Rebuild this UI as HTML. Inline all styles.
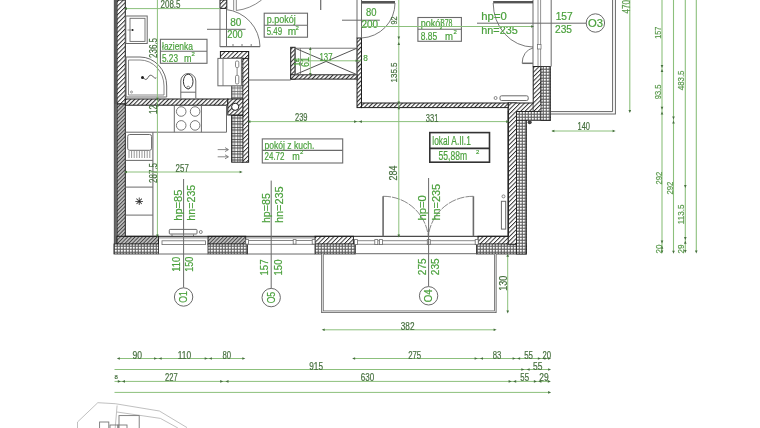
<!DOCTYPE html><html><head><meta charset="utf-8"><style>
html,body{margin:0;padding:0;background:#fff;width:760px;height:428px;overflow:hidden}
svg{display:block;will-change:transform;font-family:"Liberation Sans",sans-serif}
</style></head><body>
<svg width="760" height="428" viewBox="0 0 760 428">
<defs>
<pattern id="h" width="3.1" height="3.1" patternUnits="userSpaceOnUse" patternTransform="rotate(45)">
<rect width="3.1" height="3.1" fill="#fff"/><rect x="0" y="0" width="0.95" height="3.1" fill="#2e2e2e"/></pattern>
<pattern id="hd" width="2.6" height="2.6" patternUnits="userSpaceOnUse" patternTransform="rotate(45)">
<rect width="2.6" height="2.6" fill="#bcbcbc"/><rect x="0" y="0" width="0.9" height="2.6" fill="#444"/></pattern>
<pattern id="b" width="3" height="3" patternUnits="userSpaceOnUse">
<rect width="3" height="3" fill="#666"/><rect x="0.8" y="0.8" width="2" height="2" rx="0.7" fill="#fcfcfc"/></pattern>
<pattern id="hx" width="3" height="3" patternUnits="userSpaceOnUse" patternTransform="rotate(45)">
<rect width="3" height="3" fill="#fff"/><rect x="0" y="0" width="1.1" height="3" fill="#333"/></pattern>
<pattern id="dct" width="5.7" height="6" patternUnits="userSpaceOnUse" x="231.6" y="115">
<rect width="5.7" height="6" fill="#f2f2f2"/><path d="M0 0.4H5.7M0.4 0V6M0 3H5.7M2.85 0V6" stroke="#3a3a3a" stroke-width="0.8"/></pattern>
</defs>
<rect width="760" height="428" fill="#fff"/>

<rect x="117" y="0" width="8.3" height="104" fill="url(#h)" stroke="#1e1e1e" stroke-width="1"/>
<rect x="117" y="104" width="8.3" height="140" fill="url(#hd)" stroke="#1e1e1e" stroke-width="1"/>
<rect x="114" y="0" width="3" height="104" fill="#5a5a5a"/>
<rect x="114" y="104" width="3" height="140" fill="#666"/>
<line x1="114.3" y1="0" x2="114.3" y2="254" stroke="#555" stroke-width="0.8" />
<rect x="117" y="236.3" width="41.5" height="7.9" fill="url(#hd)" stroke="#1e1e1e" stroke-width="1"/>
<rect x="114" y="244" width="44.5" height="10" fill="url(#b)" stroke="#1e1e1e" stroke-width="0.8"/>
<rect x="208" y="236.3" width="37.7" height="7.9" fill="url(#hd)" stroke="#1e1e1e" stroke-width="1"/>
<rect x="208" y="244" width="39.6" height="10" fill="url(#b)" stroke="#1e1e1e" stroke-width="0.8"/>
<rect x="315" y="236.3" width="38.4" height="7.9" fill="url(#h)" stroke="#1e1e1e" stroke-width="1"/>
<rect x="315" y="244" width="40.3" height="10" fill="url(#b)" stroke="#1e1e1e" stroke-width="0.8"/>
<rect x="478" y="236.3" width="38.6" height="7.9" fill="url(#h)" stroke="#1e1e1e" stroke-width="1"/>
<rect x="476.5" y="244" width="50" height="10" fill="url(#b)" stroke="#1e1e1e" stroke-width="0.8"/>
<rect x="508.2" y="103" width="8.4" height="141.2" fill="url(#h)" stroke="#1e1e1e" stroke-width="1"/>
<rect x="516.6" y="111.6" width="9.9" height="142.4" fill="url(#b)" stroke="#1e1e1e" stroke-width="0.8"/>
<rect x="508.2" y="103" width="32.8" height="8.6" fill="url(#h)" stroke="#1e1e1e" stroke-width="1"/>
<rect x="533.2" y="66.5" width="7.8" height="45" fill="url(#h)" stroke="#1e1e1e" stroke-width="1"/>
<rect x="516.6" y="111.6" width="34" height="8.7" fill="url(#b)" stroke="#1e1e1e" stroke-width="0.8"/>
<rect x="541" y="66.5" width="9.6" height="53.8" fill="url(#b)" stroke="#1e1e1e" stroke-width="0.8"/>
<rect x="509" y="103.6" width="7.1" height="8.5" fill="url(#h)"/>
<rect x="533.7" y="103.6" width="6.8" height="7.5" fill="url(#h)"/>
<rect x="517.1" y="112.1" width="8.9" height="8.0" fill="url(#b)"/>
<rect x="541.5" y="112.1" width="8.6" height="7.7" fill="url(#b)"/>
<line x1="508.2" y1="111.6" x2="508.2" y2="236.3" stroke="#1e1e1e" stroke-width="1.2" />
<line x1="125.3" y1="236.3" x2="508.2" y2="236.3" stroke="#1e1e1e" stroke-width="1.0" />
<rect x="361.5" y="103" width="146.7" height="4.6" fill="url(#hx)" stroke="#1e1e1e" stroke-width="1"/>
<rect x="357.5" y="103.5" width="4.5" height="3.6" fill="url(#hx)"/>
<rect x="357" y="38" width="4.5" height="69.6" fill="url(#hx)" stroke="#1e1e1e" stroke-width="1"/>
<line x1="357" y1="0" x2="357" y2="38" stroke="#6a6a6a" stroke-width="1" />
<line x1="361.5" y1="0" x2="361.5" y2="38" stroke="#6a6a6a" stroke-width="1" />
<rect x="290.7" y="47.3" width="4.4" height="31.8" fill="url(#hx)" stroke="#1e1e1e" stroke-width="1"/>
<rect x="290.7" y="74.7" width="66.3" height="4.4" fill="url(#hx)" stroke="#1e1e1e" stroke-width="1"/>
<rect x="295.1" y="48.2" width="61.9" height="26.5" fill="none" stroke="#6a6a6a" stroke-width="0.9" />
<line x1="300.5" y1="48.2" x2="300.5" y2="74.7" stroke="#6a6a6a" stroke-width="0.7" />
<line x1="295.1" y1="48.2" x2="357" y2="74.7" stroke="#555" stroke-width="1" />
<line x1="295.1" y1="74.7" x2="357" y2="48.2" stroke="#555" stroke-width="1" />
<line x1="248.6" y1="80" x2="290.7" y2="80" stroke="#6a6a6a" stroke-width="1" />
<rect x="125.3" y="99" width="102.5" height="6.2" fill="url(#hx)" stroke="#1e1e1e" stroke-width="1"/>
<rect x="242.2" y="51.5" width="6.4" height="110.7" fill="url(#h)" stroke="#1e1e1e" stroke-width="1"/>
<rect x="220.4" y="51.5" width="28.2" height="6.9" fill="url(#h)" stroke="#1e1e1e" stroke-width="1"/>
<rect x="231.6" y="115" width="11.3" height="47.2" fill="url(#dct)" stroke="#1e1e1e" stroke-width="0.9"/>
<rect x="231.6" y="58" width="11.3" height="41" fill="url(#dct)" stroke="#1e1e1e" stroke-width="0.9" opacity="0.8"/>
<rect x="227.8" y="99" width="15.1" height="16" fill="url(#hx)" stroke="#1e1e1e" stroke-width="1"/>
<circle cx="235.2" cy="106.8" r="3.6" fill="#fff" stroke="#1e1e1e" stroke-width="1"/>
<rect x="217.9" y="58.4" width="23.5" height="27.4" fill="#fff" stroke="#6a6a6a" stroke-width="1" />
<line x1="223" y1="58.4" x2="223" y2="85.8" stroke="#6a6a6a" stroke-width="0.8" />
<rect x="235.5" y="61" width="3.3" height="6.5" fill="none" stroke="#6a6a6a" stroke-width="0.8" rx="1.2"/>
<rect x="235.5" y="75.4" width="3.3" height="8.5" fill="none" stroke="#6a6a6a" stroke-width="0.8" rx="1.2"/>
<line x1="237.1" y1="67.5" x2="237.1" y2="75.4" stroke="#6a6a6a" stroke-width="0.8" />
<rect x="220" y="0" width="6.8" height="8.4" fill="url(#h)" stroke="#1e1e1e" stroke-width="1"/>
<line x1="220" y1="8.4" x2="220" y2="47" stroke="#6a6a6a" stroke-width="1" />
<line x1="226.5" y1="8.4" x2="226.5" y2="47" stroke="#6a6a6a" stroke-width="1" />
<line x1="220" y1="46.7" x2="260" y2="46.7" stroke="#6a6a6a" stroke-width="1.2" />
<line x1="233" y1="44" x2="233" y2="47" stroke="#6a6a6a" stroke-width="0.9" />
<line x1="242" y1="44" x2="242" y2="47" stroke="#6a6a6a" stroke-width="0.9" />
<line x1="251.2" y1="44" x2="251.2" y2="47" stroke="#6a6a6a" stroke-width="0.9" />
<line x1="233.7" y1="0" x2="233.7" y2="10.5" stroke="#6a6a6a" stroke-width="0.8" />
<line x1="236.3" y1="0" x2="236.3" y2="10.5" stroke="#6a6a6a" stroke-width="0.8" />
<path d="M236.3 10.5 Q250 9 261.6 0" stroke="#6a6a6a" stroke-width="0.8" fill="none" />
<path d="M226 9.5 A38 38 0 0 1 260 46.7" stroke="#6a6a6a" stroke-width="0.9" fill="none" />
<rect x="361.5" y="1" width="33.5" height="2.6" fill="#555"/>
<path d="M395 3 A35 35 0 0 1 361.5 38" stroke="#6a6a6a" stroke-width="0.9" fill="none" />
<rect x="493.2" y="1" width="39.8" height="2.4" fill="#555"/>
<path d="M493.2 3 A40 44 0 0 0 533 47" stroke="#6a6a6a" stroke-width="0.9" fill="none" />
<line x1="533" y1="0" x2="533" y2="66.5" stroke="#444" stroke-width="0.8" />
<line x1="538" y1="0" x2="538" y2="66.5" stroke="#777" stroke-width="0.8" />
<line x1="540.6" y1="0" x2="540.6" y2="66.5" stroke="#777" stroke-width="0.8" />
<line x1="551.2" y1="0" x2="551.2" y2="66.5" stroke="#777" stroke-width="1.1" />
<line x1="320.7" y1="0" x2="320.7" y2="10" stroke="#6a6a6a" stroke-width="1.2" />
<rect x="537.6" y="44.5" width="3.4" height="4.5" fill="#fff" stroke="#6a6a6a" stroke-width="0.7" />
<line x1="522.2" y1="63.3" x2="533" y2="63.3" stroke="#6a6a6a" stroke-width="1.5" />
<path d="M533 48 A13 15 0 0 0 522.2 63.3" stroke="#6a6a6a" stroke-width="0.9" fill="none" />
<line x1="550.6" y1="111.6" x2="612.6" y2="111.6" stroke="#666" stroke-width="1" />
<line x1="550.6" y1="114" x2="615.9" y2="114" stroke="#666" stroke-width="1" />
<line x1="612.6" y1="0" x2="612.6" y2="111.6" stroke="#666" stroke-width="1" />
<line x1="615.4" y1="0" x2="615.4" y2="114" stroke="#666" stroke-width="1" />
<line x1="158.5" y1="237.9" x2="208" y2="237.9" stroke="#6a6a6a" stroke-width="0.8" />
<rect x="162" y="240.8" width="43.5" height="3.8" fill="#fff" stroke="#6a6a6a" stroke-width="0.8" />
<line x1="158.5" y1="254" x2="208" y2="254" stroke="#6a6a6a" stroke-width="1" />
<line x1="245.7" y1="237.9" x2="315" y2="237.9" stroke="#6a6a6a" stroke-width="0.8" />
<rect x="247.6" y="240.5" width="66" height="3.8" fill="#fff" stroke="#6a6a6a" stroke-width="0.8" />
<rect x="245.7" y="239.6" width="2.8" height="4.5" fill="#fff" stroke="#6a6a6a" stroke-width="0.8" />
<rect x="293.2" y="239.6" width="2.8" height="4.5" fill="#fff" stroke="#6a6a6a" stroke-width="0.8" />
<rect x="312.2" y="239.6" width="2.8" height="4.5" fill="#fff" stroke="#6a6a6a" stroke-width="0.8" />
<line x1="247.6" y1="254" x2="315" y2="254" stroke="#6a6a6a" stroke-width="1" />
<line x1="353.4" y1="240.7" x2="478" y2="240.7" stroke="#6a6a6a" stroke-width="0.8" />
<line x1="353.4" y1="244.3" x2="478" y2="244.3" stroke="#6a6a6a" stroke-width="0.8" />
<rect x="354.5" y="239.6" width="3" height="5" fill="#fff" stroke="#6a6a6a" stroke-width="0.8" />
<rect x="374.8" y="239.6" width="3" height="5" fill="#fff" stroke="#6a6a6a" stroke-width="0.8" />
<rect x="379.4" y="239.6" width="3" height="5" fill="#fff" stroke="#6a6a6a" stroke-width="0.8" />
<rect x="427.3" y="239.6" width="3" height="5" fill="#fff" stroke="#6a6a6a" stroke-width="0.8" />
<rect x="475.2" y="239.6" width="3" height="5" fill="#fff" stroke="#6a6a6a" stroke-width="0.8" />
<line x1="355.3" y1="253.7" x2="476.5" y2="253.7" stroke="#6a6a6a" stroke-width="1" />
<line x1="383.1" y1="196.3" x2="383.1" y2="236.3" stroke="#6a6a6a" stroke-width="1.6" />
<line x1="473.4" y1="196.3" x2="473.4" y2="236.3" stroke="#6a6a6a" stroke-width="1.6" />
<path d="M383.1 196.3 A45 45 0 0 1 428.3 236.3" stroke="#6a6a6a" stroke-width="0.8" fill="none" stroke-dasharray="8 1"/>
<path d="M473.4 196.3 A45 45 0 0 0 428.3 236.3" stroke="#6a6a6a" stroke-width="0.8" fill="none" stroke-dasharray="8 1"/>
<path d="M322.4 254 V311.7 H495.3 V254" stroke="#6a6a6a" stroke-width="2.6" fill="none" />
<path d="M322.4 254 V311.7 H495.3 V254" stroke="#fff" stroke-width="0.8" fill="none" />
<rect x="125.8" y="16" width="21.4" height="27.5" fill="none" stroke="#6a6a6a" stroke-width="1" />
<rect x="130" y="18.3" width="15" height="23.1" fill="none" stroke="#6a6a6a" stroke-width="0.9" />
<circle cx="132.5" cy="30" r="1.1" fill="#1e1e1e"/>
<line x1="127.5" y1="30" x2="131" y2="30" stroke="#6a6a6a" stroke-width="0.7" />
<path d="M126.1 57 H140 A26.7 29 0 0 1 166.7 86 V97 H126.1 Z" stroke="#6a6a6a" stroke-width="1" fill="none" />
<path d="M128.5 60 H140 A24 26 0 0 1 164 86 V95 H128.5 Z" stroke="#6a6a6a" stroke-width="0.8" fill="none" />
<circle cx="142.5" cy="77.5" r="1.5" fill="#1e1e1e"/>
<path d="M143 77.5 q3 4 5 0 t5 -1 t3 1" stroke="#1e1e1e" stroke-width="0.7" fill="none" />
<circle cx="131.5" cy="92" r="1" fill="none" stroke="#6a6a6a" stroke-width="0.7"/>
<path d="M180.8 98.5 V81 A7.5 7.5 0 0 1 195.8 81 V98.5" stroke="#6a6a6a" stroke-width="1" fill="none" />
<line x1="180.8" y1="92.2" x2="195.8" y2="92.2" stroke="#6a6a6a" stroke-width="1" />
<ellipse cx="188.2" cy="81.5" rx="4.8" ry="7.3" fill="none" stroke="#1e1e1e" stroke-width="0.9"/>
<circle cx="188.2" cy="87.6" r="1.4" fill="none" stroke="#6a6a6a" stroke-width="0.8"/>
<line x1="125.3" y1="132.2" x2="226.5" y2="132.2" stroke="#6a6a6a" stroke-width="1" />
<line x1="226.5" y1="105.2" x2="226.5" y2="132.2" stroke="#6a6a6a" stroke-width="1" />
<line x1="174.3" y1="105.2" x2="174.3" y2="132.2" stroke="#6a6a6a" stroke-width="1" />
<line x1="201.4" y1="105.2" x2="201.4" y2="132.2" stroke="#6a6a6a" stroke-width="1" />
<circle cx="181.2" cy="111.5" r="4.8" fill="none" stroke="#6a6a6a" stroke-width="0.9"/>
<circle cx="181.2" cy="125.4" r="4.8" fill="none" stroke="#6a6a6a" stroke-width="0.9"/>
<circle cx="195.1" cy="111.5" r="4.8" fill="none" stroke="#6a6a6a" stroke-width="0.9"/>
<circle cx="195.1" cy="125.4" r="4.8" fill="none" stroke="#6a6a6a" stroke-width="0.9"/>
<line x1="152.9" y1="132.2" x2="152.9" y2="236.3" stroke="#6a6a6a" stroke-width="1.1" />
<rect x="127.7" y="134.5" width="23.9" height="15.8" fill="none" stroke="#6a6a6a" stroke-width="1" rx="2"/>
<line x1="129.0" y1="151" x2="129.0" y2="158" stroke="#6a6a6a" stroke-width="0.7" />
<line x1="131.6" y1="151" x2="131.6" y2="158" stroke="#6a6a6a" stroke-width="0.7" />
<line x1="134.2" y1="151" x2="134.2" y2="158" stroke="#6a6a6a" stroke-width="0.7" />
<line x1="136.8" y1="151" x2="136.8" y2="158" stroke="#6a6a6a" stroke-width="0.7" />
<line x1="139.4" y1="151" x2="139.4" y2="158" stroke="#6a6a6a" stroke-width="0.7" />
<line x1="142.0" y1="151" x2="142.0" y2="158" stroke="#6a6a6a" stroke-width="0.7" />
<line x1="144.6" y1="151" x2="144.6" y2="158" stroke="#6a6a6a" stroke-width="0.7" />
<line x1="147.2" y1="151" x2="147.2" y2="158" stroke="#6a6a6a" stroke-width="0.7" />
<line x1="149.8" y1="151" x2="149.8" y2="158" stroke="#6a6a6a" stroke-width="0.7" />
<line x1="125.3" y1="160.4" x2="152.9" y2="160.4" stroke="#6a6a6a" stroke-width="1" />
<line x1="125.3" y1="187.1" x2="152.9" y2="187.1" stroke="#6a6a6a" stroke-width="1" />
<line x1="125.3" y1="215.1" x2="152.9" y2="215.1" stroke="#6a6a6a" stroke-width="1" />
<text x="139.3" y="205" font-size="10" fill="#1e1e1e" stroke="#1e1e1e" stroke-width="0.2" text-anchor="middle" >✳</text>
<line x1="217.7" y1="149.6" x2="228" y2="149.6" stroke="#6a6a6a" stroke-width="0.8" />
<path d="M225 147.6 L228.5 149.6 L225 151.6" stroke="#6a6a6a" stroke-width="0.8" fill="none" />
<line x1="217.7" y1="156.8" x2="228" y2="156.8" stroke="#6a6a6a" stroke-width="0.8" />
<path d="M225 154.8 L228.5 156.8 L225 158.8" stroke="#6a6a6a" stroke-width="0.8" fill="none" />
<rect x="169.3" y="229.4" width="27.7" height="4.6" fill="#fff" stroke="#6a6a6a" stroke-width="1" rx="0.8"/>
<line x1="172" y1="234.5" x2="172" y2="236" stroke="#6a6a6a" stroke-width="1" />
<line x1="193.5" y1="234.5" x2="193.5" y2="236" stroke="#6a6a6a" stroke-width="1" />
<circle cx="200.8" cy="232" r="1.5" fill="none" stroke="#6a6a6a" stroke-width="0.8"/>
<rect x="500" y="95.8" width="28.2" height="4.7" fill="#fff" stroke="#6a6a6a" stroke-width="1" rx="1.5"/>
<circle cx="495.6" cy="98" r="1.5" fill="none" stroke="#6a6a6a" stroke-width="0.8"/>
<rect x="501.4" y="201.3" width="4.3" height="27.8" fill="#fff" stroke="#6a6a6a" stroke-width="1" />
<circle cx="503.5" cy="196.4" r="1.5" fill="none" stroke="#6a6a6a" stroke-width="0.8"/>
<circle cx="529.7" cy="122.3" r="2" fill="#444"/>
<rect x="160.4" y="39.3" width="46.599999999999994" height="24.0" fill="none" stroke="#6a6a6a" stroke-width="1.1" />
<line x1="160.4" y1="51.3" x2="207" y2="51.3" stroke="#6a6a6a" stroke-width="1.1" />
<text x="162" y="49.8" font-size="10.5" fill="#4aa03c" stroke="#4aa03c" stroke-width="0.2" text-anchor="start" textLength="31" lengthAdjust="spacingAndGlyphs" >łazienka</text>
<text x="162" y="61.5" font-size="10.5" fill="#4aa03c" stroke="#4aa03c" stroke-width="0.2" text-anchor="start" textLength="16" lengthAdjust="spacingAndGlyphs" >5.23</text>
<text x="184" y="61.5" font-size="10.5" fill="#4aa03c" stroke="#4aa03c" stroke-width="0.2" text-anchor="start" textLength="7.5" lengthAdjust="spacingAndGlyphs" >m</text>
<text x="191.5" y="55.5" font-size="6" fill="#4aa03c" stroke="#4aa03c" stroke-width="0.2" text-anchor="start" >2</text>
<rect x="264.2" y="13.2" width="43.30000000000001" height="24.000000000000004" fill="none" stroke="#6a6a6a" stroke-width="1.1" />
<line x1="264.2" y1="25.2" x2="307.5" y2="25.2" stroke="#6a6a6a" stroke-width="1.1" />
<text x="266.7" y="22.8" font-size="10.5" fill="#4aa03c" stroke="#4aa03c" stroke-width="0.2" text-anchor="start" textLength="29" lengthAdjust="spacingAndGlyphs" >p.pokój</text>
<text x="266.7" y="35.4" font-size="10.5" fill="#4aa03c" stroke="#4aa03c" stroke-width="0.2" text-anchor="start" textLength="15.4" lengthAdjust="spacingAndGlyphs" >5.49</text>
<text x="287.7" y="35.4" font-size="10.5" fill="#4aa03c" stroke="#4aa03c" stroke-width="0.2" text-anchor="start" textLength="8.4" lengthAdjust="spacingAndGlyphs" >m</text>
<text x="295.5" y="29.5" font-size="6" fill="#4aa03c" stroke="#4aa03c" stroke-width="0.2" text-anchor="start" >2</text>
<rect x="417.9" y="17.5" width="43.5" height="23.799999999999997" fill="none" stroke="#6a6a6a" stroke-width="1.1" />
<line x1="417.9" y1="29.2" x2="461.4" y2="29.2" stroke="#6a6a6a" stroke-width="1.1" />
<text x="420.7" y="27.3" font-size="10.5" fill="#4aa03c" stroke="#4aa03c" stroke-width="0.2" text-anchor="start" textLength="21.5" lengthAdjust="spacingAndGlyphs" >pokój</text>
<text x="440.8" y="27" font-size="10" fill="#4aa03c" stroke="#4aa03c" stroke-width="0.2" text-anchor="start" textLength="11.7" lengthAdjust="spacingAndGlyphs" >378</text>
<text x="420.7" y="39.9" font-size="10.5" fill="#4aa03c" stroke="#4aa03c" stroke-width="0.2" text-anchor="start" textLength="16.4" lengthAdjust="spacingAndGlyphs" >8.85</text>
<text x="445" y="39.9" font-size="10.5" fill="#4aa03c" stroke="#4aa03c" stroke-width="0.2" text-anchor="start" textLength="8" lengthAdjust="spacingAndGlyphs" >m</text>
<text x="453.5" y="34" font-size="6" fill="#4aa03c" stroke="#4aa03c" stroke-width="0.2" text-anchor="start" >2</text>
<rect x="262.3" y="138.9" width="80.39999999999998" height="24.099999999999994" fill="none" stroke="#6a6a6a" stroke-width="1.1" />
<line x1="262.3" y1="150.4" x2="342.7" y2="150.4" stroke="#6a6a6a" stroke-width="1.1" />
<text x="264.5" y="148.6" font-size="10.5" fill="#4aa03c" stroke="#4aa03c" stroke-width="0.2" text-anchor="start" textLength="50" lengthAdjust="spacingAndGlyphs" >pokój z kuch.</text>
<text x="264.5" y="160.4" font-size="10.5" fill="#4aa03c" stroke="#4aa03c" stroke-width="0.2" text-anchor="start" textLength="20" lengthAdjust="spacingAndGlyphs" >24.72</text>
<text x="292.3" y="160.4" font-size="10.5" fill="#4aa03c" stroke="#4aa03c" stroke-width="0.2" text-anchor="start" textLength="7.5" lengthAdjust="spacingAndGlyphs" >m</text>
<text x="300" y="154" font-size="6" fill="#4aa03c" stroke="#4aa03c" stroke-width="0.2" text-anchor="start" >2</text>
<rect x="429.8" y="132.6" width="59.69999999999999" height="29.599999999999994" fill="none" stroke="#333" stroke-width="1.6" />
<line x1="429.8" y1="148.4" x2="489.5" y2="148.4" stroke="#333" stroke-width="1.6" />
<text x="432.3" y="145.3" font-size="12" fill="#4aa03c" stroke="#4aa03c" stroke-width="0.2" text-anchor="start" textLength="38.5" lengthAdjust="spacingAndGlyphs" >lokal A.II.1</text>
<text x="438.6" y="160" font-size="12" fill="#4aa03c" stroke="#4aa03c" stroke-width="0.2" text-anchor="start" textLength="28.5" lengthAdjust="spacingAndGlyphs" >55,88m</text>
<text x="476" y="153.5" font-size="6" fill="#4aa03c" stroke="#4aa03c" stroke-width="0.2" text-anchor="start" >2</text>
<text x="230.2" y="26" font-size="10.5" fill="#4aa03c" stroke="#4aa03c" stroke-width="0.2" text-anchor="start" textLength="11.2" lengthAdjust="spacingAndGlyphs" >80</text>
<line x1="207" y1="29.3" x2="245.6" y2="29.3" stroke="#6a6a6a" stroke-width="1" />
<text x="227.3" y="37.9" font-size="10.5" fill="#4aa03c" stroke="#4aa03c" stroke-width="0.2" text-anchor="start" textLength="15.5" lengthAdjust="spacingAndGlyphs" >200</text>
<text x="366" y="16.4" font-size="10.5" fill="#4aa03c" stroke="#4aa03c" stroke-width="0.2" text-anchor="start" textLength="10.5" lengthAdjust="spacingAndGlyphs" >80</text>
<line x1="342" y1="20.2" x2="379.8" y2="20.2" stroke="#6a6a6a" stroke-width="1" />
<text x="361.5" y="27.7" font-size="10.5" fill="#4aa03c" stroke="#4aa03c" stroke-width="0.2" text-anchor="start" textLength="16.5" lengthAdjust="spacingAndGlyphs" >200</text>
<text x="481.3" y="20.2" font-size="10.5" fill="#4aa03c" stroke="#4aa03c" stroke-width="0.2" text-anchor="start" textLength="25.5" lengthAdjust="spacingAndGlyphs" >hp=0</text>
<text x="481.3" y="34" font-size="10.5" fill="#4aa03c" stroke="#4aa03c" stroke-width="0.2" text-anchor="start" textLength="36.5" lengthAdjust="spacingAndGlyphs" >hn=235</text>
<text x="555.7" y="19.5" font-size="11" fill="#4aa03c" stroke="#4aa03c" stroke-width="0.2" text-anchor="start" textLength="17" lengthAdjust="spacingAndGlyphs" >157</text>
<text x="555" y="32.8" font-size="11" fill="#4aa03c" stroke="#4aa03c" stroke-width="0.2" text-anchor="start" textLength="17" lengthAdjust="spacingAndGlyphs" >235</text>
<line x1="477" y1="23.2" x2="586.2" y2="23.2" stroke="#6a6a6a" stroke-width="1" />
<circle cx="595.4" cy="23" r="9.2" fill="#fff" stroke="#6a6a6a" stroke-width="1"/>
<text x="595.4" y="27.2" font-size="11" fill="#4aa03c" stroke="#4aa03c" stroke-width="0.2" text-anchor="middle" textLength="15" lengthAdjust="spacingAndGlyphs" >O3</text>
<line x1="183.6" y1="179" x2="183.6" y2="287.8" stroke="#6a6a6a" stroke-width="1" />
<circle cx="183.6" cy="297" r="9.2" fill="#fff" stroke="#6a6a6a" stroke-width="1"/>
<text x="187.2" y="297" font-size="10" fill="#4aa03c" stroke="#4aa03c" stroke-width="0.2" text-anchor="middle" transform="rotate(-90 187.2 297)" textLength="11.5" lengthAdjust="spacingAndGlyphs" >O1</text>
<text x="182" y="220.7" font-size="11" fill="#4aa03c" stroke="#4aa03c" stroke-width="0.2" text-anchor="start" transform="rotate(-90 182 220.7)" textLength="31" lengthAdjust="spacingAndGlyphs" >hp=85</text>
<text x="195.1" y="220.7" font-size="11" fill="#4aa03c" stroke="#4aa03c" stroke-width="0.2" text-anchor="start" transform="rotate(-90 195.1 220.7)" textLength="36" lengthAdjust="spacingAndGlyphs" >hn=235</text>
<text x="180" y="271.7" font-size="11" fill="#4aa03c" stroke="#4aa03c" stroke-width="0.2" text-anchor="start" transform="rotate(-90 180 271.7)" textLength="15" lengthAdjust="spacingAndGlyphs" >110</text>
<text x="193.3" y="271.7" font-size="11" fill="#4aa03c" stroke="#4aa03c" stroke-width="0.2" text-anchor="start" transform="rotate(-90 193.3 271.7)" textLength="15" lengthAdjust="spacingAndGlyphs" >150</text>
<line x1="271.2" y1="180.6" x2="271.2" y2="288.40000000000003" stroke="#6a6a6a" stroke-width="1" />
<circle cx="271.2" cy="297.6" r="9.2" fill="#fff" stroke="#6a6a6a" stroke-width="1"/>
<text x="274.8" y="297.6" font-size="10" fill="#4aa03c" stroke="#4aa03c" stroke-width="0.2" text-anchor="middle" transform="rotate(-90 274.8 297.6)" textLength="11.5" lengthAdjust="spacingAndGlyphs" >O5</text>
<text x="270.3" y="223.1" font-size="10.5" fill="#4aa03c" stroke="#4aa03c" stroke-width="0.2" text-anchor="start" transform="rotate(-90 270.3 223.1)" textLength="30" lengthAdjust="spacingAndGlyphs" >hp=85</text>
<text x="282.6" y="223.1" font-size="10.5" fill="#4aa03c" stroke="#4aa03c" stroke-width="0.2" text-anchor="start" transform="rotate(-90 282.6 223.1)" textLength="36.8" lengthAdjust="spacingAndGlyphs" >hn=235</text>
<text x="267.8" y="275.5" font-size="11" fill="#4aa03c" stroke="#4aa03c" stroke-width="0.2" text-anchor="start" transform="rotate(-90 267.8 275.5)" textLength="16" lengthAdjust="spacingAndGlyphs" >157</text>
<text x="281.5" y="275.5" font-size="11" fill="#4aa03c" stroke="#4aa03c" stroke-width="0.2" text-anchor="start" transform="rotate(-90 281.5 275.5)" textLength="16" lengthAdjust="spacingAndGlyphs" >150</text>
<line x1="428.6" y1="178" x2="428.6" y2="286.6" stroke="#6a6a6a" stroke-width="1" />
<circle cx="428.6" cy="295.8" r="9.2" fill="#fff" stroke="#6a6a6a" stroke-width="1"/>
<text x="432.20000000000005" y="295.8" font-size="11" fill="#4aa03c" stroke="#4aa03c" stroke-width="0.2" text-anchor="middle" transform="rotate(-90 432.20000000000005 295.8)" textLength="13" lengthAdjust="spacingAndGlyphs" >O4</text>
<text x="426.1" y="220.6" font-size="10.5" fill="#4aa03c" stroke="#4aa03c" stroke-width="0.2" text-anchor="start" transform="rotate(-90 426.1 220.6)" textLength="25.4" lengthAdjust="spacingAndGlyphs" >hp=0</text>
<text x="440" y="220.6" font-size="10.5" fill="#4aa03c" stroke="#4aa03c" stroke-width="0.2" text-anchor="start" transform="rotate(-90 440 220.6)" textLength="36.8" lengthAdjust="spacingAndGlyphs" >hn=235</text>
<text x="425.8" y="275.2" font-size="11" fill="#4aa03c" stroke="#4aa03c" stroke-width="0.2" text-anchor="start" transform="rotate(-90 425.8 275.2)" textLength="16.8" lengthAdjust="spacingAndGlyphs" >275</text>
<text x="439" y="275.2" font-size="11" fill="#4aa03c" stroke="#4aa03c" stroke-width="0.2" text-anchor="start" transform="rotate(-90 439 275.2)" textLength="16.8" lengthAdjust="spacingAndGlyphs" >235</text>
<line x1="125.3" y1="8.6" x2="220" y2="8.6" stroke="#8cc07c" stroke-width="1" />
<path d="M124.0 8.6 L127.0 7.3 L127.0 9.9Z" fill="#456f3d"/>
<text x="160.5" y="8.0" font-size="10" fill="#456f3d" stroke="#456f3d" stroke-width="0.2" text-anchor="start" textLength="20" lengthAdjust="spacingAndGlyphs" >208.5</text>
<line x1="157.4" y1="0" x2="157.4" y2="236.3" stroke="#8cc07c" stroke-width="1" />
<path d="M157.4 237.6 L156.1 234.6 L158.70000000000002 234.6Z" fill="#456f3d"/>
<text x="157.3" y="58" font-size="10" fill="#456f3d" stroke="#456f3d" stroke-width="0.2" text-anchor="start" transform="rotate(-90 157.3 58)" textLength="20" lengthAdjust="spacingAndGlyphs" >236.5</text>
<text x="157" y="114" font-size="10" fill="#456f3d" stroke="#456f3d" stroke-width="0.2" text-anchor="start" transform="rotate(-90 157 114)" textLength="9" lengthAdjust="spacingAndGlyphs" >12</text>
<text x="157" y="183" font-size="10" fill="#456f3d" stroke="#456f3d" stroke-width="0.2" text-anchor="start" transform="rotate(-90 157 183)" textLength="20" lengthAdjust="spacingAndGlyphs" >287.5</text>
<path d="M157.4 100.8 L156.1 97.8 L158.70000000000002 97.8Z" fill="#456f3d"/>
<path d="M157.4 103.4 L156.1 106.4 L158.70000000000002 106.4Z" fill="#456f3d"/>
<line x1="125.3" y1="172" x2="241" y2="172" stroke="#8cc07c" stroke-width="1" />
<path d="M124.0 172 L127.0 170.7 L127.0 173.3Z" fill="#456f3d"/>
<path d="M242.6 172 L239.6 170.7 L239.6 173.3Z" fill="#456f3d"/>
<text x="175.6" y="171.6" font-size="10" fill="#456f3d" stroke="#456f3d" stroke-width="0.2" text-anchor="start" textLength="13.2" lengthAdjust="spacingAndGlyphs" >257</text>
<line x1="248.6" y1="121.6" x2="507.9" y2="121.6" stroke="#8cc07c" stroke-width="1" />
<path d="M247.4 121.6 L250.4 120.3 L250.4 122.89999999999999Z" fill="#456f3d"/>
<path d="M357.1 121.6 L354.1 120.3 L354.1 122.89999999999999Z" fill="#456f3d"/>
<path d="M358.9 121.6 L361.9 120.3 L361.9 122.89999999999999Z" fill="#456f3d"/>
<path d="M509.20000000000005 121.6 L506.20000000000005 120.3 L506.20000000000005 122.89999999999999Z" fill="#456f3d"/>
<text x="295" y="121.2" font-size="10" fill="#456f3d" stroke="#456f3d" stroke-width="0.2" text-anchor="start" textLength="12.5" lengthAdjust="spacingAndGlyphs" >239</text>
<text x="425.8" y="121.6" font-size="10.5" fill="#456f3d" stroke="#456f3d" stroke-width="0.2" text-anchor="start" textLength="12.6" lengthAdjust="spacingAndGlyphs" >331</text>
<line x1="398.8" y1="0" x2="398.8" y2="236.3" stroke="#8cc07c" stroke-width="1" />
<path d="M398.8 237.6 L397.5 234.6 L400.1 234.6Z" fill="#456f3d"/>
<path d="M398.8 39.6 L397.5 36.6 L400.1 36.6Z" fill="#456f3d"/>
<path d="M398.8 41.9 L397.5 44.9 L400.1 44.9Z" fill="#456f3d"/>
<path d="M398.8 104.39999999999999 L397.5 101.39999999999999 L400.1 101.39999999999999Z" fill="#456f3d"/>
<path d="M398.8 106.2 L397.5 109.2 L400.1 109.2Z" fill="#456f3d"/>
<text x="397" y="24.5" font-size="9" fill="#456f3d" stroke="#456f3d" stroke-width="0.2" text-anchor="start" transform="rotate(-90 397 24.5)" textLength="8" lengthAdjust="spacingAndGlyphs" >92</text>
<text x="397" y="82.5" font-size="9" fill="#456f3d" stroke="#456f3d" stroke-width="0.2" text-anchor="start" transform="rotate(-90 397 82.5)" textLength="20" lengthAdjust="spacingAndGlyphs" >135.5</text>
<text x="397.5" y="180.6" font-size="10" fill="#456f3d" stroke="#456f3d" stroke-width="0.2" text-anchor="start" transform="rotate(-90 397.5 180.6)" textLength="15" lengthAdjust="spacingAndGlyphs" >284</text>
<line x1="361.5" y1="26.5" x2="533" y2="26.5" stroke="#8cc07c" stroke-width="1" />
<path d="M534.1 26.5 L531.1 25.2 L531.1 27.8Z" fill="#456f3d"/>
<line x1="295.1" y1="60.8" x2="361.3" y2="60.8" stroke="#8cc07c" stroke-width="1" />
<path d="M293.9 60.8 L296.9 59.5 L296.9 62.099999999999994Z" fill="#456f3d"/>
<path d="M358.6 60.8 L355.6 59.5 L355.6 62.099999999999994Z" fill="#456f3d"/>
<text x="319.5" y="60.8" font-size="10.5" fill="#4aa03c" stroke="#4aa03c" stroke-width="0.2" text-anchor="start" textLength="13" lengthAdjust="spacingAndGlyphs" >137</text>
<text x="363.3" y="61" font-size="9.5" fill="#4aa03c" stroke="#4aa03c" stroke-width="0.2" text-anchor="start" textLength="4.6" lengthAdjust="spacingAndGlyphs" >8</text>
<line x1="310.3" y1="48.5" x2="310.3" y2="74.5" stroke="#8cc07c" stroke-width="0.9" />
<path d="M310.3 46.9 L309.0 49.9 L311.6 49.9Z" fill="#456f3d"/>
<path d="M310.3 76.1 L309.0 73.1 L311.6 73.1Z" fill="#456f3d"/>
<text x="309.3" y="67" font-size="10" fill="#4aa03c" stroke="#4aa03c" stroke-width="0.2" text-anchor="start" transform="rotate(-90 309.3 67)" textLength="10" lengthAdjust="spacingAndGlyphs" >61</text>
<text x="300" y="66" font-size="9" fill="#4aa03c" stroke="#4aa03c" stroke-width="0.2" text-anchor="start" transform="rotate(-90 300 66)" textLength="8" lengthAdjust="spacingAndGlyphs" >14</text>
<line x1="552" y1="131" x2="614" y2="131" stroke="#8cc07c" stroke-width="1" />
<path d="M551.4 131 L554.4 129.7 L554.4 132.3Z" fill="#456f3d"/>
<path d="M615.6 131 L612.6 129.7 L612.6 132.3Z" fill="#456f3d"/>
<text x="577.5" y="129.9" font-size="10" fill="#456f3d" stroke="#456f3d" stroke-width="0.2" text-anchor="start" textLength="12.5" lengthAdjust="spacingAndGlyphs" >140</text>
<line x1="507.7" y1="255.3" x2="507.7" y2="312" stroke="#8cc07c" stroke-width="1" />
<path d="M507.7 253.70000000000002 L506.4 256.7 L509.0 256.7Z" fill="#456f3d"/>
<path d="M507.7 313.6 L506.4 310.6 L509.0 310.6Z" fill="#456f3d"/>
<text x="507" y="290.8" font-size="10" fill="#456f3d" stroke="#456f3d" stroke-width="0.2" text-anchor="start" transform="rotate(-90 507 290.8)" textLength="15" lengthAdjust="spacingAndGlyphs" >130</text>
<line x1="323.1" y1="329.8" x2="495" y2="329.8" stroke="#8cc07c" stroke-width="1" />
<path d="M321.7 329.8 L324.7 328.5 L324.7 331.1Z" fill="#456f3d"/>
<path d="M496.6 329.8 L493.6 328.5 L493.6 331.1Z" fill="#456f3d"/>
<text x="400.8" y="329.8" font-size="10" fill="#456f3d" stroke="#456f3d" stroke-width="0.2" text-anchor="start" textLength="13.7" lengthAdjust="spacingAndGlyphs" >382</text>
<line x1="629.8" y1="0" x2="629.8" y2="111.4" stroke="#8cc07c" stroke-width="1.1" />
<path d="M629.8 113.0 L628.5 110.0 L631.0999999999999 110.0Z" fill="#456f3d"/>
<text x="630.5" y="13.4" font-size="10" fill="#5a9a4c" stroke="#5a9a4c" stroke-width="0.2" text-anchor="start" transform="rotate(-90 630.5 13.4)" textLength="13.4" lengthAdjust="spacingAndGlyphs" >470</text>
<line x1="662" y1="0" x2="662" y2="252" stroke="#8cc07c" stroke-width="1.1" />
<path d="M662 68.0 L660.7 65.0 L663.3 65.0Z" fill="#456f3d"/>
<path d="M662 68.9 L660.7 71.9 L663.3 71.9Z" fill="#456f3d"/>
<path d="M662 109.69999999999999 L660.7 106.69999999999999 L663.3 106.69999999999999Z" fill="#456f3d"/>
<path d="M662 111.4 L660.7 114.4 L663.3 114.4Z" fill="#456f3d"/>
<path d="M662 243.6 L660.7 240.6 L663.3 240.6Z" fill="#456f3d"/>
<path d="M662 245.70000000000002 L660.7 248.70000000000002 L663.3 248.70000000000002Z" fill="#456f3d"/>
<path d="M662 253.6 L660.7 250.6 L663.3 250.6Z" fill="#456f3d"/>
<text x="661.5" y="38.7" font-size="9.5" fill="#5a9a4c" stroke="#5a9a4c" stroke-width="0.2" text-anchor="start" transform="rotate(-90 661.5 38.7)" textLength="12" lengthAdjust="spacingAndGlyphs" >157</text>
<text x="661.3" y="99.3" font-size="9.5" fill="#5a9a4c" stroke="#5a9a4c" stroke-width="0.2" text-anchor="start" transform="rotate(-90 661.3 99.3)" textLength="14.7" lengthAdjust="spacingAndGlyphs" >93.5</text>
<text x="661.8" y="184.5" font-size="9.5" fill="#5a9a4c" stroke="#5a9a4c" stroke-width="0.2" text-anchor="start" transform="rotate(-90 661.8 184.5)" textLength="12.8" lengthAdjust="spacingAndGlyphs" >292</text>
<text x="661.5" y="253.5" font-size="9.5" fill="#5a9a4c" stroke="#5a9a4c" stroke-width="0.2" text-anchor="start" transform="rotate(-90 661.5 253.5)" textLength="9" lengthAdjust="spacingAndGlyphs" >20</text>
<line x1="673.5" y1="0" x2="673.5" y2="252.2" stroke="#8cc07c" stroke-width="1.1" />
<path d="M673.5 119.5 L672.2 116.5 L674.8 116.5Z" fill="#456f3d"/>
<path d="M673.5 120.60000000000001 L672.2 123.60000000000001 L674.8 123.60000000000001Z" fill="#456f3d"/>
<path d="M673.5 253.79999999999998 L672.2 250.79999999999998 L674.8 250.79999999999998Z" fill="#456f3d"/>
<text x="673" y="194.6" font-size="9.5" fill="#5a9a4c" stroke="#5a9a4c" stroke-width="0.2" text-anchor="start" transform="rotate(-90 673 194.6)" textLength="13" lengthAdjust="spacingAndGlyphs" >292</text>
<line x1="685.3" y1="0" x2="685.3" y2="251.5" stroke="#8cc07c" stroke-width="1.1" />
<path d="M685.3 187.9 L684.0 184.9 L686.5999999999999 184.9Z" fill="#456f3d"/>
<path d="M685.3 239.9 L684.0 236.9 L686.5999999999999 236.9Z" fill="#456f3d"/>
<path d="M685.3 240.8 L684.0 243.8 L686.5999999999999 243.8Z" fill="#456f3d"/>
<path d="M685.3 253.1 L684.0 250.1 L686.5999999999999 250.1Z" fill="#456f3d"/>
<text x="684.3" y="90.2" font-size="9.5" fill="#5a9a4c" stroke="#5a9a4c" stroke-width="0.2" text-anchor="start" transform="rotate(-90 684.3 90.2)" textLength="19.7" lengthAdjust="spacingAndGlyphs" >483.5</text>
<text x="684.3" y="224.3" font-size="9.5" fill="#5a9a4c" stroke="#5a9a4c" stroke-width="0.2" text-anchor="start" transform="rotate(-90 684.3 224.3)" textLength="19.8" lengthAdjust="spacingAndGlyphs" >113.5</text>
<text x="684.3" y="253.5" font-size="9.5" fill="#5a9a4c" stroke="#5a9a4c" stroke-width="0.2" text-anchor="start" transform="rotate(-90 684.3 253.5)" textLength="9" lengthAdjust="spacingAndGlyphs" >29</text>
<line x1="696.3" y1="0" x2="696.3" y2="252" stroke="#8cc07c" stroke-width="1.1" />
<path d="M696.3 253.6 L695.0 250.6 L697.5999999999999 250.6Z" fill="#456f3d"/>
<line x1="118.4" y1="358.5" x2="243.7" y2="358.5" stroke="#8cc07c" stroke-width="1" />
<path d="M116.80000000000001 358.5 L119.80000000000001 357.2 L119.80000000000001 359.8Z" fill="#456f3d"/>
<path d="M157.1 358.5 L154.1 357.2 L154.1 359.8Z" fill="#456f3d"/>
<path d="M158.70000000000002 358.5 L161.70000000000002 357.2 L161.70000000000002 359.8Z" fill="#456f3d"/>
<path d="M207.7 358.5 L204.7 357.2 L204.7 359.8Z" fill="#456f3d"/>
<path d="M208.9 358.5 L211.9 357.2 L211.9 359.8Z" fill="#456f3d"/>
<path d="M245.29999999999998 358.5 L242.29999999999998 357.2 L242.29999999999998 359.8Z" fill="#456f3d"/>
<text x="132.6" y="358.6" font-size="10" fill="#456f3d" stroke="#456f3d" stroke-width="0.2" text-anchor="start" textLength="9.5" lengthAdjust="spacingAndGlyphs" >90</text>
<text x="177.7" y="358.6" font-size="10" fill="#456f3d" stroke="#456f3d" stroke-width="0.2" text-anchor="start" textLength="13.4" lengthAdjust="spacingAndGlyphs" >110</text>
<text x="222.4" y="358.6" font-size="10" fill="#456f3d" stroke="#456f3d" stroke-width="0.2" text-anchor="start" textLength="8.6" lengthAdjust="spacingAndGlyphs" >80</text>
<line x1="353.7" y1="358.5" x2="549.5" y2="358.5" stroke="#8cc07c" stroke-width="1" />
<path d="M352.09999999999997 358.5 L355.09999999999997 357.2 L355.09999999999997 359.8Z" fill="#456f3d"/>
<path d="M477.6 358.5 L474.6 357.2 L474.6 359.8Z" fill="#456f3d"/>
<path d="M480.0 358.5 L483.0 357.2 L483.0 359.8Z" fill="#456f3d"/>
<path d="M515.6 358.5 L512.6 357.2 L512.6 359.8Z" fill="#456f3d"/>
<path d="M517.1 358.5 L520.1 357.2 L520.1 359.8Z" fill="#456f3d"/>
<path d="M540.9 358.5 L537.9 357.2 L537.9 359.8Z" fill="#456f3d"/>
<path d="M542.4 358.5 L545.4 357.2 L545.4 359.8Z" fill="#456f3d"/>
<path d="M551.1 358.5 L548.1 357.2 L548.1 359.8Z" fill="#456f3d"/>
<text x="408.2" y="358.6" font-size="10" fill="#456f3d" stroke="#456f3d" stroke-width="0.2" text-anchor="start" textLength="13" lengthAdjust="spacingAndGlyphs" >275</text>
<text x="492.7" y="358.6" font-size="10" fill="#456f3d" stroke="#456f3d" stroke-width="0.2" text-anchor="start" textLength="8.6" lengthAdjust="spacingAndGlyphs" >83</text>
<text x="524.2" y="358.6" font-size="10" fill="#456f3d" stroke="#456f3d" stroke-width="0.2" text-anchor="start" textLength="8.8" lengthAdjust="spacingAndGlyphs" >55</text>
<text x="542.4" y="358.6" font-size="10" fill="#456f3d" stroke="#456f3d" stroke-width="0.2" text-anchor="start" textLength="8.6" lengthAdjust="spacingAndGlyphs" >20</text>
<line x1="114.5" y1="369.5" x2="549.5" y2="369.5" stroke="#8cc07c" stroke-width="1" />
<path d="M524.3000000000001 369.5 L521.3000000000001 368.2 L521.3000000000001 370.8Z" fill="#456f3d"/>
<path d="M526.6 369.5 L529.6 368.2 L529.6 370.8Z" fill="#456f3d"/>
<path d="M551.1 369.5 L548.1 368.2 L548.1 370.8Z" fill="#456f3d"/>
<text x="309.3" y="369.6" font-size="10" fill="#456f3d" stroke="#456f3d" stroke-width="0.2" text-anchor="start" textLength="13.7" lengthAdjust="spacingAndGlyphs" >915</text>
<text x="533" y="369.6" font-size="10" fill="#456f3d" stroke="#456f3d" stroke-width="0.2" text-anchor="start" textLength="9.4" lengthAdjust="spacingAndGlyphs" >55</text>
<line x1="114.5" y1="381.4" x2="549.5" y2="381.4" stroke="#8cc07c" stroke-width="1" />
<path d="M120.8 381.4 L117.8 380.09999999999997 L117.8 382.7Z" fill="#456f3d"/>
<path d="M122.0 381.4 L125.0 380.09999999999997 L125.0 382.7Z" fill="#456f3d"/>
<path d="M223.2 381.4 L220.2 380.09999999999997 L220.2 382.7Z" fill="#456f3d"/>
<path d="M225.5 381.4 L228.5 380.09999999999997 L228.5 382.7Z" fill="#456f3d"/>
<path d="M511.6 381.4 L508.6 380.09999999999997 L508.6 382.7Z" fill="#456f3d"/>
<path d="M513.1999999999999 381.4 L516.1999999999999 380.09999999999997 L516.1999999999999 382.7Z" fill="#456f3d"/>
<path d="M536.9 381.4 L533.9 380.09999999999997 L533.9 382.7Z" fill="#456f3d"/>
<path d="M538.4 381.4 L541.4 380.09999999999997 L541.4 382.7Z" fill="#456f3d"/>
<path d="M550.8000000000001 381.4 L547.8000000000001 380.09999999999997 L547.8000000000001 382.7Z" fill="#456f3d"/>
<text x="114.5" y="379" font-size="6" fill="#456f3d" stroke="#456f3d" stroke-width="0.2" text-anchor="start" >8</text>
<text x="165" y="381.2" font-size="10" fill="#456f3d" stroke="#456f3d" stroke-width="0.2" text-anchor="start" textLength="12.7" lengthAdjust="spacingAndGlyphs" >227</text>
<text x="360.8" y="381.2" font-size="10" fill="#456f3d" stroke="#456f3d" stroke-width="0.2" text-anchor="start" textLength="13.4" lengthAdjust="spacingAndGlyphs" >630</text>
<text x="520.3" y="381.2" font-size="10" fill="#456f3d" stroke="#456f3d" stroke-width="0.2" text-anchor="start" textLength="8.7" lengthAdjust="spacingAndGlyphs" >55</text>
<text x="539.3" y="381.2" font-size="10" fill="#456f3d" stroke="#456f3d" stroke-width="0.2" text-anchor="start" textLength="9.4" lengthAdjust="spacingAndGlyphs" >29</text>
<line x1="114.5" y1="392.4" x2="549.5" y2="392.4" stroke="#8cc07c" stroke-width="1" />
<path d="M551.1 392.4 L548.1 391.09999999999997 L548.1 393.7Z" fill="#456f3d"/>
<path d="M77.5 428 L77.5 422 L97.8 402.7 L115.2 403.7 L159.4 411 L187 427.6" stroke="#b0b0b0" stroke-width="0.8" fill="none" />
<path d="M117.1 405.5 L115.2 428" stroke="#b0b0b0" stroke-width="0.8" fill="none" />
<path d="M117 412 L160.4 418.4 L177.9 428" stroke="#b0b0b0" stroke-width="0.8" fill="none" />
<rect x="99.6" y="422" width="9.2" height="8" fill="none" stroke="#777" stroke-width="0.9" />
<rect x="119" y="415.6" width="20.2" height="14" fill="none" stroke="#777" stroke-width="0.9" />
<rect x="110" y="425" width="8" height="6" fill="none" stroke="#777" stroke-width="0.9" />
<rect x="118" y="425" width="9" height="6" fill="none" stroke="#777" stroke-width="0.9" />
</svg></body></html>
